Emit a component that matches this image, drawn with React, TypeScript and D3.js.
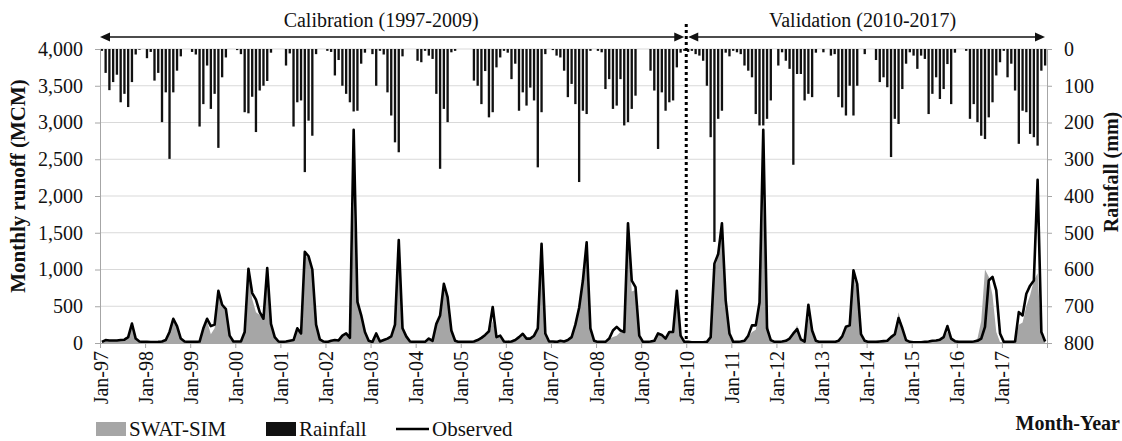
import React, { useEffect, useRef } from "react";
import * as d3 from "d3";

const yearLabels = [
  "Jan-97", "Jan-98", "Jan-99", "Jan-00", "Jan-01", "Jan-02", "Jan-03",
  "Jan-04", "Jan-05", "Jan-06", "Jan-07", "Jan-08", "Jan-09", "Jan-10",
  "Jan-11", "Jan-12", "Jan-13", "Jan-14", "Jan-15", "Jan-16", "Jan-17",
];

// monthly rainfall (mm), one row per year 1997..2017
const rainfall = [
  5, 65, 112, 90, 70, 145, 122, 158, 90, 15, 2, 0,
  25, 8, 86, 65, 199, 118, 299, 118, 59, 20, 0, 0,
  8, 15, 211, 150, 45, 163, 122, 269, 77, 23, 0, 0,
  3, 14, 172, 175, 130, 226, 113, 100, 87, 10, 0, 0,
  0, 45, 12, 211, 145, 140, 335, 195, 236, 14, 0, 0,
  5, 8, 72, 30, 100, 122, 145, 170, 168, 40, 10, 0,
  14, 100, 5, 15, 118, 181, 254, 281, 20, 0, 0, 0,
  32, 36, 5, 18, 27, 122, 326, 163, 199, 9, 5, 0,
  0, 0, 0, 86, 100, 150, 60, 186, 172, 50, 23, 5,
  10, 82, 40, 168, 118, 154, 105, 140, 322, 172, 14, 0,
  3, 18, 23, 59, 131, 95, 150, 362, 168, 177, 5, 0,
  5, 9, 109, 82, 163, 154, 82, 208, 199, 163, 127, 0,
  0, 0, 59, 113, 272, 118, 168, 145, 140, 50, 10, 5,
  8, 5, 14, 18, 32, 100, 240, 525, 190, 168, 10, 20,
  5, 9, 14, 45, 59, 77, 177, 208, 208, 190, 140, 0,
  45, 9, 32, 54, 315, 68, 68, 140, 122, 131, 10, 0,
  9, 0, 18, 14, 131, 159, 181, 100, 181, 100, 0, 14,
  0, 0, 30, 90, 77, 104, 294, 190, 204, 109, 40, 9,
  18, 54, 18, 27, 177, 122, 77, 136, 109, 41, 150, 10,
  0, 0, 5, 190, 150, 199, 236, 245, 186, 145, 72, 36,
  5, 77, 40, 113, 258, 168, 172, 231, 240, 263, 59, 45,
];

// observed monthly runoff (MCM)
const observed = [
  15, 40, 35, 35, 35, 40, 45, 80, 265, 60, 20, 15,
  15, 12, 12, 15, 20, 40, 150, 330, 230, 60, 20, 15,
  15, 15, 20, 200, 330, 230, 250, 710, 520, 460, 100, 20,
  20, 20, 150, 1010, 680, 590, 420, 330, 1020, 260, 80, 20,
  15, 20, 30, 40, 200, 130, 1240, 1180, 1000, 250, 50, 20,
  15, 30, 40, 35, 100, 130, 70, 2900, 560, 380, 150, 30,
  15, 130, 20, 40, 60, 90, 250, 1400, 200, 90, 20, 15,
  15, 15, 15, 60, 30, 260, 375, 805, 625, 170, 30, 15,
  15, 15, 15, 20, 40, 70, 110, 160, 490, 80, 100, 20,
  15, 20, 40, 80, 125, 60, 60, 100, 200, 1350, 130, 20,
  20, 15, 30, 20, 40, 80, 250, 480, 850, 1370, 200, 30,
  15, 15, 15, 60, 170, 220, 170, 150, 1630, 850, 760, 100,
  15, 15, 20, 30, 130, 110, 60, 150, 150, 710, 100, 15,
  15, 10, 10, 10, 10, 15, 80, 1080, 1210, 1630, 580, 130,
  15, 15, 20, 30, 100, 240, 240, 550, 2900, 200, 40, 15,
  15, 20, 30, 60, 130, 190, 50, 20, 520, 170, 30, 15,
  15, 15, 15, 15, 30, 90, 220, 240, 990, 800, 120, 30,
  15, 15, 15, 20, 25, 30, 80, 120, 340, 200, 40, 15,
  10, 10, 10, 15, 20, 30, 35, 45, 80, 230, 60, 25,
  15, 15, 15, 15, 20, 30, 60, 220, 850, 900, 715, 130,
  15, 15, 15, 20, 420, 375, 670, 780, 850, 2220, 150, 20,
];

// SWAT simulated monthly runoff (MCM)
const swatSim = [
  10, 30, 30, 30, 30, 35, 40, 70, 240, 70, 20, 10,
  10, 10, 10, 12, 20, 40, 140, 320, 240, 70, 20, 10,
  10, 10, 15, 180, 300, 120, 200, 690, 540, 420, 120, 20,
  15, 15, 130, 950, 600, 420, 380, 320, 980, 300, 90, 20,
  10, 15, 25, 40, 180, 120, 1200, 1150, 950, 280, 60, 20,
  10, 25, 35, 30, 90, 120, 60, 1850, 700, 350, 140, 30,
  10, 110, 20, 35, 50, 80, 220, 1300, 250, 90, 20, 10,
  10, 10, 10, 50, 30, 250, 360, 780, 580, 180, 30, 10,
  10, 10, 10, 15, 30, 60, 100, 140, 300, 90, 90, 20,
  10, 15, 30, 70, 110, 50, 50, 90, 190, 1250, 160, 20,
  15, 10, 25, 15, 35, 70, 230, 460, 820, 1300, 230, 30,
  10, 10, 10, 50, 80, 100, 150, 140, 1550, 700, 720, 110,
  10, 10, 15, 25, 120, 100, 50, 140, 140, 650, 110, 15,
  10, 8, 8, 8, 8, 12, 70, 1000, 1180, 1600, 500, 90,
  10, 10, 15, 25, 80, 150, 180, 520, 1950, 300, 50, 15,
  10, 15, 25, 50, 120, 240, 60, 20, 350, 180, 30, 10,
  10, 10, 10, 10, 25, 80, 200, 230, 950, 700, 140, 30,
  10, 10, 10, 15, 20, 25, 70, 130, 420, 220, 40, 10,
  8, 8, 8, 10, 15, 25, 30, 40, 70, 150, 60, 20,
  10, 10, 10, 10, 25, 60, 300, 1000, 900, 650, 150, 15,
  10, 10, 10, 15, 250, 280, 500, 650, 850, 950, 100, 30,
];

const legendLabels = ["SWAT-SIM", "Rainfall", "Observed"];

const FONT = "'Liberation Serif', 'Times New Roman', serif";

const App = () => {
  const ref = useRef<SVGSVGElement>(null);

  useEffect(() => {
    const svg = d3.select(ref.current);
    svg.selectAll("*").remove();

    const left = 100, right = 1047, top = 49, bottom = 343;
    const n = rainfall.length;
    const splitIndex = 13 * 12; // Jan-10

    const xb = d3
      .scaleBand<number>()
      .domain(d3.range(n))
      .range([left, right])
      .paddingInner(0.38)
      .paddingOuter(0.19);
    const xm = d3.scaleLinear().domain([0, n]).range([left, right]);
    const cx = (i: number) => xm(i + 0.5);
    const yL = d3.scaleLinear().domain([0, 4000]).range([bottom, top]);
    const yR = d3.scaleLinear().domain([0, 800]).range([top, bottom]);

    // gridlines
    svg
      .append("g")
      .selectAll("line")
      .data(d3.range(500, 4001, 500))
      .join("line")
      .attr("x1", left)
      .attr("x2", right)
      .attr("y1", (d) => yL(d))
      .attr("y2", (d) => yL(d))
      .attr("stroke", "#d9d9d9")
      .attr("stroke-width", 1);

    // simulated area
    const area = d3
      .area<number>()
      .x((d, i) => cx(i))
      .y0(yL(0))
      .y1((d) => yL(d));
    svg.append("path").datum(swatSim).attr("d", area).attr("fill", "#a6a6a6");

    // rainfall bars (hanging from the top)
    svg
      .append("g")
      .attr("fill", "#111")
      .selectAll("rect")
      .data(rainfall)
      .join("rect")
      .attr("x", (d, i) => xb(i) as number)
      .attr("y", yR(0))
      .attr("width", xb.bandwidth())
      .attr("height", (d) => yR(d) - yR(0));

    // observed line
    const line = d3
      .line<number>()
      .x((d, i) => cx(i))
      .y((d) => yL(d));
    svg
      .append("path")
      .datum(observed)
      .attr("d", line)
      .attr("fill", "none")
      .attr("stroke", "#000")
      .attr("stroke-width", 2.6)
      .attr("stroke-linejoin", "round");

    const styleAxis = (g: any) => {
      g.select(".domain").attr("stroke", "#a6a6a6");
      g.selectAll(".tick line").attr("stroke", "#a6a6a6");
      g.selectAll("text")
        .attr("font-family", FONT)
        .attr("font-size", 20)
        .attr("fill", "#111");
    };

    // left axis
    svg
      .append("g")
      .attr("transform", `translate(${left},0)`)
      .call(
        d3
          .axisLeft(yL)
          .tickValues(d3.range(0, 4001, 500))
          .tickFormat(d3.format(","))
          .tickSize(5)
          .tickSizeOuter(0)
          .tickPadding(12)
      )
      .call(styleAxis);

    // right axis
    svg
      .append("g")
      .attr("transform", `translate(${right},0)`)
      .call(
        d3
          .axisRight(yR)
          .tickValues(d3.range(0, 801, 100))
          .tickSize(5)
          .tickSizeOuter(0)
          .tickPadding(12)
      )
      .call(styleAxis);

    // bottom axis
    const xAxis = svg
      .append("g")
      .attr("transform", `translate(0,${bottom})`)
      .call(
        d3
          .axisBottom(xm)
          .tickValues(d3.range(0, n + 1, 12))
          .tickFormat((d) => yearLabels[(d as number) / 12] ?? "")
          .tickSize(5)
          .tickSizeOuter(0)
      )
      .call(styleAxis);
    xAxis
      .selectAll("text")
      .attr("transform", "rotate(-90)")
      .attr("text-anchor", "end")
      .attr("x", -8)
      .attr("y", 0)
      .attr("dy", "0.35em");

    // calibration / validation divider
    svg
      .append("line")
      .attr("x1", xm(splitIndex))
      .attr("x2", xm(splitIndex))
      .attr("y1", 24)
      .attr("y2", bottom)
      .attr("stroke", "#000")
      .attr("stroke-width", 3)
      .attr("stroke-dasharray", "3 3");

    const arrow = (x1: number, x2: number, y: number) => {
      const g = svg.append("g");
      g.append("line")
        .attr("x1", x1 + 6)
        .attr("x2", x2 - 6)
        .attr("y1", y)
        .attr("y2", y)
        .attr("stroke", "#111")
        .attr("stroke-width", 1.3);
      g.append("path")
        .attr("d", `M${x1},${y}L${x1 + 10},${y - 4.5}L${x1 + 10},${y + 4.5}Z`)
        .attr("fill", "#111");
      g.append("path")
        .attr("d", `M${x2},${y}L${x2 - 10},${y - 4.5}L${x2 - 10},${y + 4.5}Z`)
        .attr("fill", "#111");
    };
    arrow(left, xm(splitIndex) - 2, 37);
    arrow(xm(splitIndex) + 2, right - 2, 37);

    const label = (t: string, x: number, y: number, opts: any = {}) =>
      svg
        .append("text")
        .attr("x", x)
        .attr("y", y)
        .attr("font-family", FONT)
        .attr("font-size", opts.size ?? 20)
        .attr("font-weight", opts.weight ?? "normal")
        .attr("text-anchor", opts.anchor ?? "middle")
        .attr("transform", opts.rotate ? `rotate(-90,${x},${y})` : null)
        .attr("fill", "#111")
        .text(t);

    label("Calibration (1997-2009)", (left + xm(splitIndex)) / 2 - 12, 27);
    label("Validation (2010-2017)", (xm(splitIndex) + right) / 2 - 4, 27);
    label("Monthly runoff (MCM)", 25, 186, { rotate: true, weight: "bold", size: 21 });
    label("Rainfall (mm)", 1118, 172, { rotate: true, weight: "bold", size: 20 });
    label("Month-Year", 1120, 430, { anchor: "end", weight: "bold", size: 20 });

    // legend
    const lg = svg.append("g").attr("font-family", FONT).attr("font-size", 21);
    const lx = [96, 266, 396];
    lg.append("rect").attr("x", lx[0]).attr("y", 422).attr("width", 30).attr("height", 14).attr("fill", "#a6a6a6");
    lg.append("rect").attr("x", lx[1]).attr("y", 422).attr("width", 30).attr("height", 14).attr("fill", "#111");
    lg.append("line")
      .attr("x1", lx[2])
      .attr("x2", lx[2] + 33)
      .attr("y1", 429)
      .attr("y2", 429)
      .attr("stroke", "#000")
      .attr("stroke-width", 2.6);
    lg.selectAll("text")
      .data(legendLabels)
      .join("text")
      .attr("x", (d, i) => lx[i] + (i === 2 ? 36 : 33))
      .attr("y", 436)
      .attr("fill", "#111")
      .text((d) => d);
  }, []);

  return (
    <svg
      ref={ref}
      width={1122}
      height={441}
      style={{ position: "absolute", left: 0, top: 0, background: "#fff" }}
    />
  );
};

export default App;
